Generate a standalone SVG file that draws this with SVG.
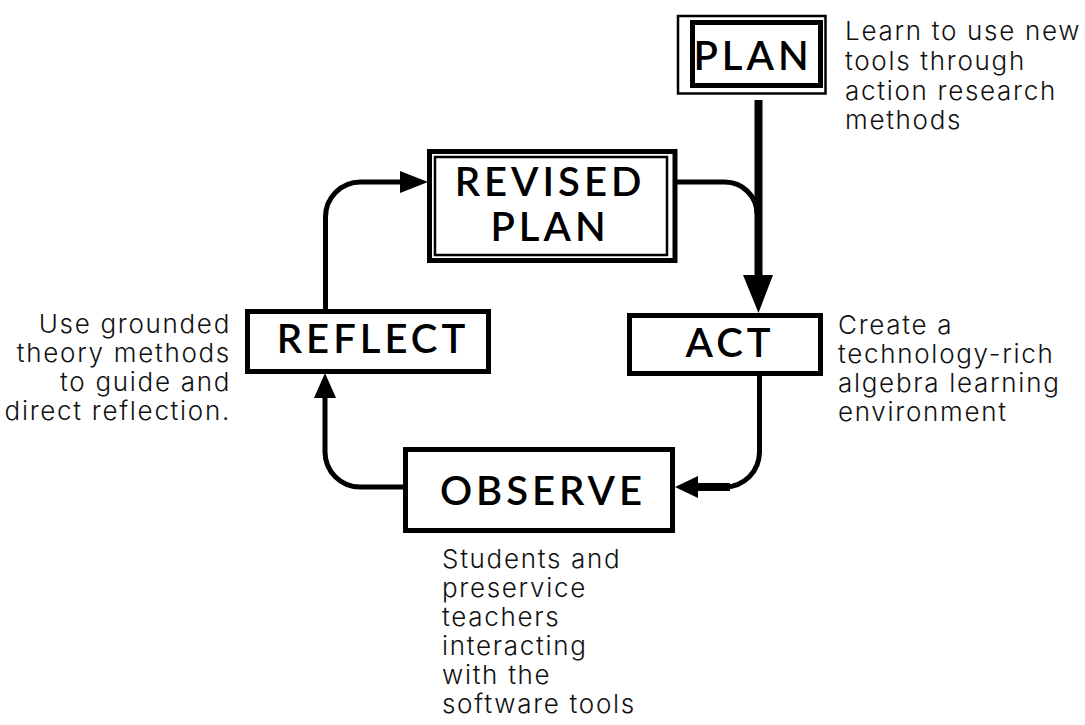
<svg xmlns="http://www.w3.org/2000/svg" width="1085" height="725" viewBox="0 0 1085 725">
  <style>
    .box { fill: #fff; stroke: #000; stroke-width: 5; }
    .thin { fill: none; stroke: #000; stroke-width: 2.5; }
    .label { font-family: "Lato", "Open Sans", sans-serif; font-weight: 600; font-size: 40px; letter-spacing: 4px; text-anchor: middle; fill: #000; }
    .note { font-family: "Inter", "DejaVu Sans", sans-serif; font-weight: 300; font-size: 26px; letter-spacing: 1.7px; fill: #111; }
    .wire { fill: none; stroke: #000; stroke-width: 5; }
    .head { fill: #000; }
  </style>
  <rect width="1085" height="725" fill="#fff"/>

  <!-- connectors -->
  <g id="connectors">
    <!-- PLAN down to ACT -->
    <line x1="758.5" y1="100" x2="758.5" y2="280" stroke="#000" stroke-width="8"/>
    <polygon class="head" points="743,275 773,275 758.5,313"/>
    <!-- REVISED PLAN joins the PLAN line -->
    <path class="wire" d="M677,182 H725 A32,32 0 0 1 757,214"/>
    <!-- ACT down and round to OBSERVE -->
    <path class="wire" d="M759.5,376 V452 A35,35 0 0 1 724.5,487 H695"/>
    <line x1="730" y1="487" x2="692" y2="487" stroke="#000" stroke-width="8"/>
    <polygon class="head" points="698,476 698,498 675,487"/>
    <!-- OBSERVE round to REFLECT -->
    <path class="wire" d="M403,487 H360 A35,35 0 0 1 325,452 V395"/>
    <polygon class="head" points="314,398 336,398 325,373"/>
    <!-- REFLECT up and round to REVISED PLAN -->
    <path class="wire" d="M325.5,310 V217 A35,35 0 0 1 360.5,182 H405"/>
    <polygon class="head" points="400,171 400,193 428,182"/>
  </g>

  <g id="plan">
    <rect class="thin" x="678" y="16" width="147.5" height="77.5"/>
    <rect class="box" x="692.5" y="22.5" width="128" height="63"/>
    <text class="label" x="753" y="70">PLAN</text>
  </g>

  <g id="revised-plan">
    <rect class="box" x="429.5" y="151.5" width="245.5" height="109"/>
    <rect class="thin" x="435" y="157" width="232" height="98"/>
    <text class="label" x="550" y="196">REVISED</text>
    <text class="label" x="550" y="241">PLAN</text>
  </g>

  <g id="reflect">
    <rect class="box" x="247.5" y="311.5" width="241" height="60"/>
    <text class="label" x="373" y="353">REFLECT</text>
  </g>

  <g id="act">
    <rect class="box" x="629.5" y="315.5" width="191" height="58"/>
    <text class="label" x="730" y="357">ACT</text>
  </g>

  <g id="observe">
    <rect class="box" x="405.5" y="449.5" width="267" height="81"/>
    <text class="label" x="543" y="505" font-size="43">OBSERVE</text>
  </g>

  <g id="plan-note">
    <text class="note" x="845" y="40">Learn to use new</text>
    <text class="note" x="845" y="70">tools through</text>
    <text class="note" x="845" y="100">action research</text>
    <text class="note" x="845" y="129">methods</text>
  </g>

  <g id="reflect-note" text-anchor="end">
    <text class="note" x="231" y="333">Use grounded</text>
    <text class="note" x="231" y="362">theory methods</text>
    <text class="note" x="231" y="391">to guide and</text>
    <text class="note" x="231" y="420">direct reflection.</text>
  </g>

  <g id="act-note">
    <text class="note" x="838" y="334">Create a</text>
    <text class="note" x="838" y="363">technology-rich</text>
    <text class="note" x="838" y="392">algebra learning</text>
    <text class="note" x="838" y="421">environment</text>
  </g>

  <g id="observe-note">
    <text class="note" x="442" y="568">Students and</text>
    <text class="note" x="442" y="597">preservice</text>
    <text class="note" x="442" y="626">teachers</text>
    <text class="note" x="442" y="655">interacting</text>
    <text class="note" x="442" y="684">with the</text>
    <text class="note" x="442" y="713">software tools</text>
  </g>
</svg>
